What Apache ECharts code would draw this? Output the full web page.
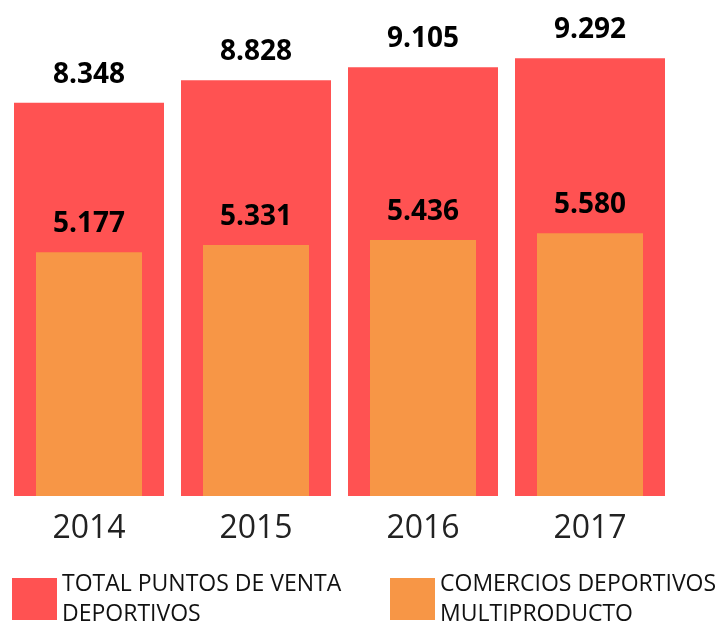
<!DOCTYPE html>
<html>
<head>
<meta charset="utf-8">
<script src="https://cdn.jsdelivr.net/npm/echarts@6/dist/echarts.min.js"></script>
<style>
  html, body { margin: 0; padding: 0; background: #fff; }
  #container { width: 725px; height: 627px; }
</style>
</head>
<body>
<div id="container"></div>
<script>
// datos
var years = ['2014', '2015', '2016', '2017'];
var totalPuntos = [8.348, 8.828, 9.105, 9.292];
var comercios = [5.177, 5.331, 5.436, 5.580];
var names = ['TOTAL PUNTOS DE VENTA DEPORTIVOS', 'COMERCIOS DEPORTIVOS MULTIPRODUCTO'];
var legendText = ['TOTAL PUNTOS DE VENTA\nDEPORTIVOS', 'COMERCIOS DEPORTIVOS\nMULTIPRODUCTO'];

var myChart = echarts.init(document.getElementById('container'));

function fmt(p) {
    return p.value.toFixed(3);
}

var labelStyle = {
    show: true,
    position: 'top',
    distance: 14,
    formatter: fmt,
    color: '#000',
    fontFamily: 'Open Sans',
    fontWeight: 'bold',
    fontSize: 28
};

var legendCommon = {
    top: 559,
    itemWidth: 45,
    itemHeight: 42,
    icon: 'rect',
    formatter: function (n) { return legendText[names.indexOf(n)]; },
    textStyle: {
        fontFamily: 'Open Sans',
        fontSize: 23,
        lineHeight: 30,
        color: '#111',
        padding: [10, 0, 0, 0]
    }
};

var option = {
    animation: false,
    color: ['#FF5252', '#F79646'],
    grid: { left: 5.5, right: 51.5, top: 25, bottom: 131 },
    legend: [
        Object.assign({ data: [names[0]], left: 7 }, legendCommon),
        Object.assign({ data: [names[1]], left: 385 }, legendCommon)
    ],
    xAxis: [
        {
            type: 'category',
            data: years,
            axisLine: { show: false },
            axisTick: { show: false },
            axisLabel: {
                margin: 17,
                color: '#222',
                fontFamily: 'Open Sans',
                fontSize: 32
            }
        },
        {
            type: 'category',
            data: years,
            show: false
        }
    ],
    yAxis: {
        type: 'value',
        min: 0,
        max: 10,
        show: false,
        splitLine: { show: false }
    },
    series: [
        {
            name: names[0],
            type: 'bar',
            xAxisIndex: 0,
            data: totalPuntos,
            barWidth: 150,
            label: labelStyle
        },
        {
            name: names[1],
            type: 'bar',
            xAxisIndex: 1,
            data: comercios,
            barWidth: 106,
            label: labelStyle
        }
    ]
};
myChart.setOption(option);
</script>
</body>
</html>
